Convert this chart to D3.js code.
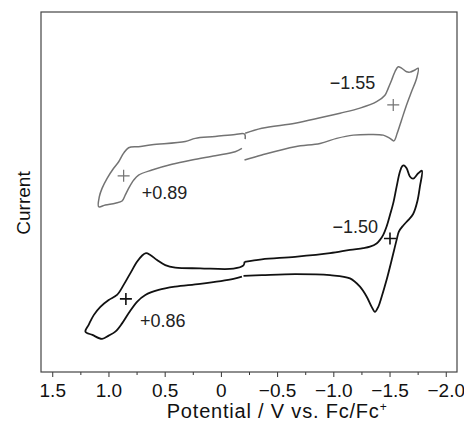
<!DOCTYPE html>
<html>
<head>
<meta charset="utf-8">
<script src="https://cdn.jsdelivr.net/npm/d3@7"></script>
<style>
  body { margin: 0; background: #fff; }
  svg { display: block; font-family: "Liberation Sans", Arial, sans-serif; }
</style>
</head>
<body>
<svg id="chart" width="464" height="424"></svg>
<script>
// potentials (V vs Fc/Fc+) and currents (arb. units)
// each scan is split at -0.2 V where the recorded trace has a small jog
var grayLeftE = [-0.216, -0.210, -0.127, 0.051, 0.228, 0.317, 0.613, 0.734, 0.821, 0.865, 0.909, 0.954, 1.012, 1.057, 1.081, 1.087, 1.028, 0.939, 0.879, 0.850, 0.821, 0.776, 0.732, 0.613, 0.435, 0.258, 0.051, -0.127, -0.187];
var grayLeftI = [14.7, 16.1, 16.0, 15.4, 14.9, 14.0, 13.1, 12.6, 12.3, 10.8, 8.4, 6.6, 3.8, 1.0, -1.3, -4.1, -3.6, -3.1, -2.5, -0.8, 1.0, 3.3, 4.7, 6.1, 7.7, 8.9, 10.1, 11.2, 12.1];

var grayRightE = [-0.216, -0.364, -0.660, -0.882, -1.060, -1.237, -1.385, -1.459, -1.488, -1.519, -1.548, -1.577, -1.607, -1.652, -1.681, -1.726, -1.755, -1.741, -1.696, -1.646, -1.607, -1.568, -1.539, -1.504, -1.444, -1.326, -1.178, -1.030, -0.882, -0.660, -0.364, -0.210];
var grayRightI = [16.3, 17.7, 19.1, 20.6, 21.9, 23.3, 25.1, 26.9, 28.8, 31.1, 33.4, 34.8, 34.4, 33.4, 33.3, 33.9, 34.4, 31.6, 27.9, 23.7, 20.0, 16.3, 14.2, 14.9, 15.8, 16.0, 15.8, 14.9, 13.5, 12.6, 10.3, 8.9];

var blackLeftE = [-0.210, -0.201, -0.112, 0.184, 0.406, 0.495, 0.568, 0.628, 0.666, 0.702, 0.746, 0.806, 0.865, 0.924, 0.998, 1.072, 1.131, 1.176, 1.205, 1.143, 1.057, 0.998, 0.939, 0.879, 0.821, 0.746, 0.672, 0.554, 0.406, 0.184, -0.112, -0.187];
var blackLeftI = [-19.4, -20.4, -21.3, -21.2, -21.0, -20.3, -18.9, -17.5, -17.0, -17.7, -19.4, -22.6, -25.8, -28.6, -30.0, -31.9, -34.2, -36.9, -38.8, -39.7, -40.8, -39.9, -38.8, -36.5, -33.7, -30.5, -28.6, -27.2, -26.3, -25.5, -24.1, -23.5];

var blackRightE = [-0.210, -0.364, -0.660, -0.971, -1.148, -1.266, -1.326, -1.385, -1.415, -1.444, -1.474, -1.504, -1.533, -1.563, -1.592, -1.613, -1.628, -1.652, -1.681, -1.710, -1.755, -1.788, -1.770, -1.748, -1.710, -1.666, -1.622, -1.583, -1.563, -1.519, -1.474, -1.430, -1.400, -1.370, -1.341, -1.297, -1.237, -1.148, -0.971, -0.660, -0.364, -0.201];
var blackRightI = [-19.4, -18.7, -18.0, -17.0, -16.1, -15.6, -15.2, -14.3, -13.3, -11.9, -9.6, -6.4, -3.1, 1.5, 5.6, 7.2, 7.4, 6.6, 4.3, 3.7, 5.2, 5.9, 1.5, -2.5, -6.1, -7.8, -9.3, -11.0, -13.3, -18.9, -24.4, -29.1, -31.9, -33.3, -31.9, -29.1, -26.3, -24.0, -23.1, -22.8, -23.1, -23.3];

// half-wave potentials marked with crosses
var markE = [0.865, -1.533, 0.845, -1.504];
var markI = [4.5, 24.2, -29.7, -12.9];
var markText = ["+0.89", "\u22121.55", "+0.86", "\u22121.50"];
var markScan = ["gray", "gray", "black", "black"];

var tickValues = [1.5, 1.0, 0.5, 0, -0.5, -1.0, -1.5, -2.0];
var tickLabels = ["1.5", "1.0", "0.5", "0", "\u22120.5", "\u22121.0", "\u22121.5", "\u22122.0"];
var minorTicks = [1.25, 0.75, 0.25, -0.25, -0.75, -1.25, -1.75];

var svg = d3.select("#chart"),
  margin = { top: 12, right: 7, bottom: 52, left: 41 },
  width = +svg.attr("width") - margin.left - margin.right,
  height = +svg.attr("height") - margin.top - margin.bottom;

var colors = { gray: "#737373", black: "#111111" };

var x = d3.scaleLinear().domain([1.6, -2.1]).range([0, width]);
var y = d3.scaleLinear().domain([-50, 50]).range([height, 0]);

var g = svg.append("g")
  .attr("transform", "translate(" + margin.left + "," + margin.top + ")");

// axis ticks
var xAxis = d3.axisBottom(x)
  .tickValues(tickValues)
  .tickFormat(function(d, i) { return tickLabels[i]; })
  .tickSizeInner(5)
  .tickSizeOuter(0)
  .tickPadding(7);

var ax = g.append("g")
  .attr("transform", "translate(0," + height + ")")
  .call(xAxis);
ax.select(".domain").remove();
ax.selectAll(".tick line").attr("stroke", "#333");
ax.selectAll(".tick text")
  .attr("fill", "#111")
  .style("font-size", "19px");

g.append("g")
  .attr("transform", "translate(0," + height + ")")
  .call(d3.axisBottom(x).tickValues(minorTicks).tickSize(3).tickFormat(""))
  .call(function(s) {
    s.select(".domain").remove();
    s.selectAll("line").attr("stroke", "#333");
  });

// frame
g.append("rect")
  .attr("width", width)
  .attr("height", height)
  .attr("fill", "none")
  .attr("stroke", "#444")
  .attr("stroke-width", 1.2);

// traces
var line = d3.line()
  .x(function(d) { return x(d[0]); })
  .y(function(d) { return y(d[1]); })
  .curve(d3.curveCatmullRom.alpha(0.5));

var traces = [
  { e: grayLeftE, i: grayLeftI, scan: "gray" },
  { e: grayRightE, i: grayRightI, scan: "gray" },
  { e: blackLeftE, i: blackLeftI, scan: "black" },
  { e: blackRightE, i: blackRightI, scan: "black" }
];

g.selectAll(".trace")
  .data(traces)
  .enter().append("path")
  .attr("class", "trace")
  .attr("fill", "none")
  .attr("stroke", function(d) { return colors[d.scan]; })
  .attr("stroke-width", function(d) { return d.scan == "gray" ? 1.5 : 1.8; })
  .attr("stroke-linejoin", "round")
  .attr("d", function(d) {
    return line(d.e.map(function(e, k) { return [e, d.i[k]]; }));
  });

// crosses + labels
var labelOffset = [[18, 23, "start"], [-18, -16, "end"], [14, 28, "start"], [-12, -5, "end"]];

var marks = g.selectAll(".mark")
  .data(markE)
  .enter().append("g")
  .attr("class", "mark")
  .attr("transform", function(d, k) {
    return "translate(" + x(d) + "," + y(markI[k]) + ")";
  });

marks.append("path")
  .attr("d", "M-6,0H6M0,-6V6")
  .attr("stroke", function(d, k) { return colors[markScan[k]]; })
  .attr("stroke-width", function(d, k) { return markScan[k] == "gray" ? 1.2 : 1.6; });

marks.append("text")
  .attr("x", function(d, k) { return labelOffset[k][0]; })
  .attr("y", function(d, k) { return labelOffset[k][1]; })
  .attr("text-anchor", function(d, k) { return labelOffset[k][2]; })
  .attr("fill", "#222")
  .style("font-size", "18px")
  .text(function(d, k) { return markText[k]; });

// axis titles
svg.append("text")
  .attr("x", x(-0.5) + margin.left)
  .attr("y", 418)
  .attr("text-anchor", "middle")
  .attr("fill", "#111")
  .style("font-size", "20px")
  .style("letter-spacing", "0.8px")
  .text("Potential / V vs. Fc/Fc")
  .append("tspan")
  .attr("dy", -7)
  .style("font-size", "12px")
  .text("+");

svg.append("text")
  .attr("transform", "translate(30,203) rotate(-90)")
  .attr("text-anchor", "middle")
  .attr("fill", "#111")
  .style("font-size", "19px")
  .text("Current");
</script>
</body>
</html>
